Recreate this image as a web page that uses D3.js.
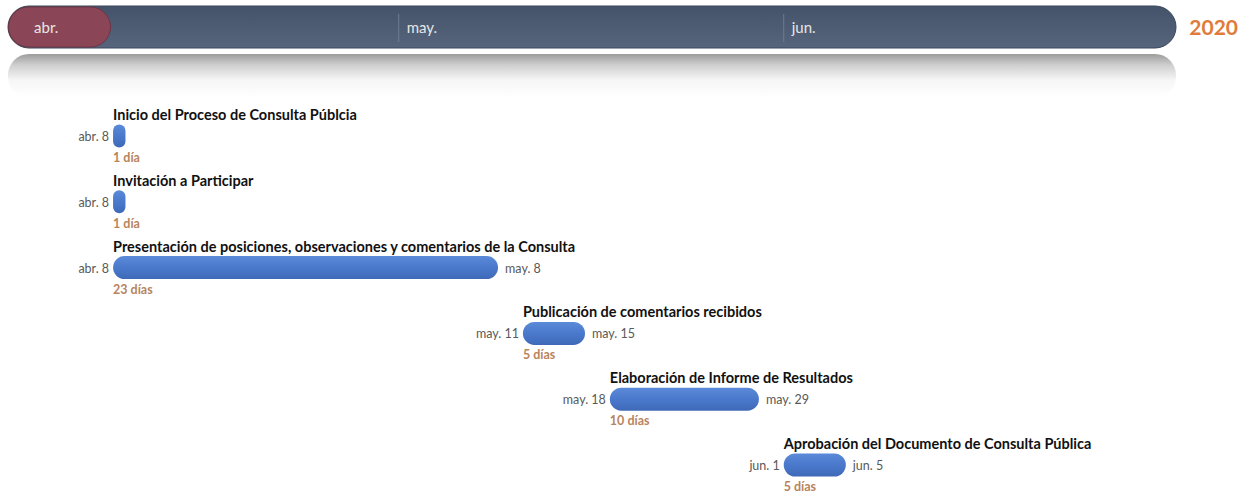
<!DOCTYPE html>
<html>
<head>
<meta charset="utf-8">
<script src="https://cdn.jsdelivr.net/npm/d3@7"></script>
<style>
  body { margin: 0; background: #fff; }
  svg { display: block; font-family: Lato, "Open Sans", sans-serif; }
</style>
</head>
<body>
<div id="chart"></div>
<script>
// tasks of the consultation, one row each
const tasks = [
  "Inicio del Proceso de Consulta Públcia",
  "Invitación a Participar",
  "Presentación de posiciones, observaciones y comentarios de la Consulta",
  "Publicación de comentarios recibidos",
  "Elaboración de Informe de Resultados",
  "Aprobación del Documento de Consulta Pública"
];
const startDates = ["2020-04-08", "2020-04-08", "2020-04-08", "2020-05-11", "2020-05-18", "2020-06-01"];
const endDates   = ["2020-04-08", "2020-04-08", "2020-05-08", "2020-05-15", "2020-05-29", "2020-06-05"];
const durations  = ["1 día", "1 día", "23 días", "5 días", "10 días", "5 días"];

// timeline months + the elapsed part ("today")
const monthStarts = ["2020-04-01", "2020-05-01", "2020-06-01"];
const yearLabel = "2020";
const todayDate = "2020-04-08";
const timelineStart = "2020-03-30T13:00";
const timelineEnd = "2020-07-02T14:00";

const width = 1249, height = 494;
const parse = d3.timeParse("%Y-%m-%d");
const parseT = d3.timeParse("%Y-%m-%dT%H:%M");

const es = d3.timeFormatLocale({
  dateTime: "%x, %X", date: "%d/%m/%Y", time: "%-I:%M:%S %p",
  periods: ["AM", "PM"],
  days: ["domingo","lunes","martes","miércoles","jueves","viernes","sábado"],
  shortDays: ["dom","lun","mar","mié","jue","vie","sáb"],
  months: ["enero","febrero","marzo","abril","mayo","junio","julio","agosto","septiembre","octubre","noviembre","diciembre"],
  shortMonths: ["ene.","feb.","mar.","abr.","may.","jun.","jul.","ago.","sep.","oct.","nov.","dic."]
});
const fmtMonth = es.format("%b");
const fmtDay = es.format("%b %-d");

const rows = tasks.map((t, i) => ({
  name: t,
  start: parse(startDates[i]),
  end: parse(endDates[i]),
  dur: durations[i]
}));

const x = d3.scaleTime()
  .domain([parseT(timelineStart), parseT(timelineEnd)])
  .range([8, 1176]);

const y = d3.scalePoint()
  .domain(tasks)
  .range([136, 465]);

const barH = 23;

const svg = d3.select("#chart")
  .append("svg")
  .attr("width", width)
  .attr("height", height);

const defs = svg.append("defs");

const tlGrad = defs.append("linearGradient").attr("id", "tlGrad")
  .attr("x1", 0).attr("y1", 0).attr("x2", 0).attr("y2", 1);
tlGrad.append("stop").attr("offset", "0%").attr("stop-color", "#44536a");
tlGrad.append("stop").attr("offset", "100%").attr("stop-color", "#56657c");

const refGrad = defs.append("linearGradient").attr("id", "refGrad")
  .attr("x1", 0).attr("y1", 0).attr("x2", 0).attr("y2", 1);
refGrad.append("stop").attr("offset", "0%").attr("stop-color", "#9c9c9c");
refGrad.append("stop").attr("offset", "25%").attr("stop-color", "#cfcfcf");
refGrad.append("stop").attr("offset", "60%").attr("stop-color", "#f6f6f6");
refGrad.append("stop").attr("offset", "100%").attr("stop-color", "#ffffff");

const barGrad = defs.append("linearGradient").attr("id", "barGrad")
  .attr("x1", 0).attr("y1", 0).attr("x2", 0).attr("y2", 1);
barGrad.append("stop").attr("offset", "0%").attr("stop-color", "#5b8ad9");
barGrad.append("stop").attr("offset", "50%").attr("stop-color", "#4a79cc");
barGrad.append("stop").attr("offset", "100%").attr("stop-color", "#3f69b8");

// timeline reflection
const tlX0 = x.range()[0], tlX1 = x.range()[1];
svg.append("rect")
  .attr("x", tlX0).attr("y", 54)
  .attr("width", tlX1 - tlX0).attr("height", 44)
  .attr("rx", 21)
  .attr("fill", "url(#refGrad)");

// timeline bar
svg.append("rect")
  .attr("x", tlX0).attr("y", 6)
  .attr("width", tlX1 - tlX0).attr("height", 42)
  .attr("rx", 21)
  .attr("fill", "url(#tlGrad)")
  .attr("stroke", "#3b4759")
  .attr("stroke-width", 1);

// elapsed part
svg.append("rect")
  .attr("x", tlX0 + 0.5).attr("y", 7)
  .attr("width", x(parse(todayDate)) - tlX0 - 3).attr("height", 40)
  .attr("rx", 20)
  .attr("fill", "#8a4656")
  .attr("stroke", "#6e3443")
  .attr("stroke-width", 1);

const months = monthStarts.map(parse);

svg.selectAll(".sep")
  .data(months.slice(1))
  .enter()
  .append("line")
  .attr("class", "sep")
  .attr("x1", d => x(d)).attr("x2", d => x(d))
  .attr("y1", 14).attr("y2", 42)
  .attr("stroke", "#6e7c91")
  .attr("stroke-width", 1);

svg.selectAll(".month")
  .data(months)
  .enter()
  .append("text")
  .attr("class", "month")
  .attr("x", d => x(d) + 8)
  .attr("y", 33)
  .attr("fill", "#e6e6e6")
  .attr("font-size", 15)
  .text(d => fmtMonth(d));

svg.append("text")
  .attr("x", 1238).attr("y", 35)
  .attr("text-anchor", "end")
  .attr("fill", "#e07b39")
  .attr("font-size", 21)
  .attr("font-weight", "bold")
  .text(yearLabel);

// task rows
const g = svg.selectAll(".task")
  .data(rows)
  .enter()
  .append("g")
  .attr("class", "task")
  .attr("transform", d => `translate(0,${y(d.name)})`);

g.append("rect")
  .attr("x", d => x(d.start))
  .attr("y", -barH / 2)
  .attr("width", d => x(d3.timeDay.offset(d.end, 1)) - x(d.start))
  .attr("height", barH)
  .attr("rx", d => Math.min(barH / 2, (x(d3.timeDay.offset(d.end, 1)) - x(d.start)) / 2))
  .attr("fill", "url(#barGrad)");

g.append("text")
  .attr("x", d => x(d.start))
  .attr("y", -16)
  .attr("font-size", 14.5)
  .attr("font-weight", "bold")
  .attr("fill", "#111")
  .text(d => d.name);

g.append("text")
  .attr("x", d => x(d.start) - 4)
  .attr("y", 5)
  .attr("text-anchor", "end")
  .attr("font-size", 12.5)
  .attr("fill", "#595959")
  .text(d => fmtDay(d.start));

g.filter(d => +d.end !== +d.start)
  .append("text")
  .attr("x", d => x(d3.timeDay.offset(d.end, 1)) + 7)
  .attr("y", 5)
  .attr("font-size", 12.5)
  .attr("fill", "#595959")
  .text(d => fmtDay(d.end));

g.append("text")
  .attr("x", d => x(d.start))
  .attr("y", 26)
  .attr("font-size", 12.5)
  .attr("font-weight", "bold")
  .attr("fill", "#b8845e")
  .text(d => d.dur);
</script>
</body>
</html>
